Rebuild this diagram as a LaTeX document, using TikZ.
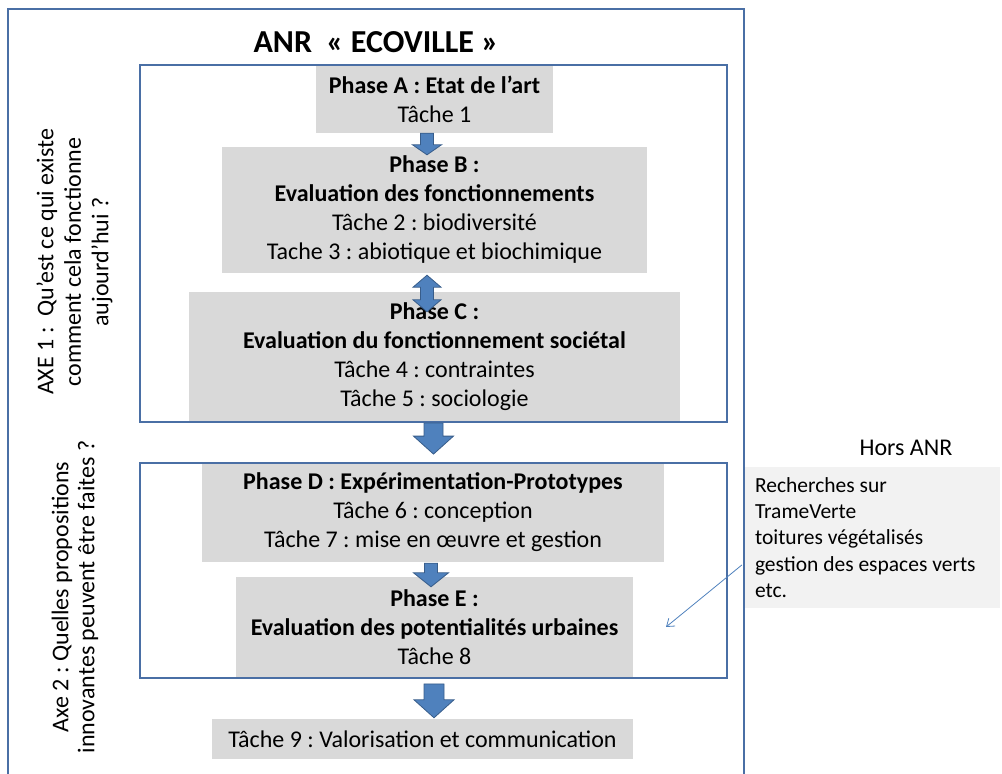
\documentclass[tikz,border=0pt]{standalone}
\usepackage{fontspec}
\setmainfont{Carlito}
\usetikzlibrary{arrows.meta,calc}
\definecolor{boxgray}{HTML}{D9D9D9}
\definecolor{notegray}{HTML}{F2F2F2}
\definecolor{frameblue}{HTML}{4A6FA5}
\definecolor{arrowfill}{HTML}{4F81BD}
\definecolor{arrowedge}{HTML}{385D8A}
\frenchspacing
% #1 tail, #2 tip, #3 shaft half width, #4 head half width, #5 head length
\newcommand{\blockdn}[5]{%
  \path[barrow] let \p1=#1, \p2=#2 in
    (\x2-#3pt,\y1) -- (\x2+#3pt,\y1) -- (\x2+#3pt,\y2+#5pt) -- (\x2+#4pt,\y2+#5pt)
    -- (\x2,\y2) -- (\x2-#4pt,\y2+#5pt) -- (\x2-#3pt,\y2+#5pt) -- cycle;}
\tikzset{
  phase/.style={fill=boxgray, inner sep=0pt, align=center},
  frame/.style={draw=frameblue, line width=1.8pt},
  barrow/.style={fill=arrowfill, draw=arrowedge, line width=0.8pt},
  note/.style={fill=notegray, inner xsep=10pt, inner ysep=0pt, align=flush left},
  sidetext/.style={rotate=90, align=center, inner sep=0pt},
  thinarrow/.style={draw=arrowfill, line width=0.8pt, -{Straight Barb[length=7pt,width=10pt]}}
}
\begin{document}
\begin{tikzpicture}[x=1pt,y=-1pt,font=\fontsize{24}{29}\selectfont\frenchspacing]
\useasboundingbox (0,0) rectangle (1002,774);

% phase boxes
\node[phase, minimum width=237, minimum height=68] (pa) at (434.5,99)
  {\textbf{Phase A : Etat de l’art}\\Tâche 1};
\node[phase, minimum width=425, minimum height=126] (pb) at (434.5,210)
  {\textbf{Phase B :}\\\textbf{Evaluation des fonctionnements}\\Tâche 2 : biodiversité\\Tache 3 : abiotique et biochimique};
\node[phase, minimum width=491, minimum height=130] (pc) at (434.5,357)
  {\textbf{Phase C :}\\\textbf{Evaluation du fonctionnement sociétal}\\Tâche 4 : contraintes\\Tâche 5 : sociologie};
\node[phase, minimum width=462, minimum height=99] (pd) at (433,512.5)
  {\textbf{Phase D : Expérimentation-Prototypes}\\Tâche 6 : conception\\Tâche 7 : mise en œuvre et gestion};
\node[phase, minimum width=397, minimum height=101] (pe) at (434.5,627.5)
  {\textbf{Phase E :}\\\textbf{Evaluation des potentialités urbaines}\\Tâche 8};
\node[phase, minimum width=421, minimum height=40] (t9) at (422.5,739)
  {Tâche 9 : Valorisation et communication};

% axis frames
\node[frame, minimum width=587, minimum height=357, inner sep=0pt] (box1) at (433.5,243.5) {};
\node[frame, minimum width=587, minimum height=215, inner sep=0pt] (box2) at (433.5,570.5) {};

% outside note
\node[note, text width=235, minimum height=141, font=\fontsize{21.5}{26.3}\selectfont\frenchspacing] (rb) at (872.5,537.5)
  {Recherches sur\\TrameVerte\\toitures végétalisés\\gestion des espaces verts\\etc.};
\node (hors) at (906,448) {Hors ANR};

% outer frame
\draw[frame] (8,774) -- (8,9) -- (744,9) -- (744,774);

% title
\node[font=\fontsize{32}{36}\selectfont\bfseries] (title) at (376,42) {ANR~~«~ECOVILLE~»};

% side texts
\node[sidetext, font=\fontsize{24}{27.5}\selectfont\frenchspacing] (axe1) at (74.5,262)
  {AXE 1 :~~Qu’est ce qui existe\\comment cela fonctionne\\aujourd’hui ?};
\node[sidetext, font=\fontsize{24}{26}\selectfont\frenchspacing] (axe2) at (75,597)
  {Axe 2 : Quelles propositions\\innovantes peuvent être faites ?};

% block arrows
\blockdn{($(pa.south)+(-7.5,0)$)}{($(pb.north)+(-7.5,8)$)}{6.5}{14.5}{10}
\path[barrow] let \p1=($(pb.south)+(-7.5,2)$), \p2=($(pc.north)+(-7.5,20)$) in
  (\x1,\y1) -- (\x1+14pt,\y1-12pt) -- (\x1+6.5pt,\y1-12pt) -- (\x1+6.5pt,\y2+12pt)
  -- (\x1+14pt,\y2+12pt) -- (\x1,\y2) -- (\x1-14pt,\y2+12pt) -- (\x1-6.5pt,\y2+12pt)
  -- (\x1-6.5pt,\y1-12pt) -- (\x1-14pt,\y1-12pt) -- cycle;
\blockdn{($(box1.south)+(0,0)$)}{($(box2.north)+(0,-8)$)}{9.5}{20}{18}
\blockdn{($(pd.south)+(-2,1)$)}{($(pe.north)+(-3.5,10)$)}{6.5}{17.5}{14}
\blockdn{($(box2.south)+(0.5,5)$)}{($(t9.north)+(11.5,-1)$)}{10}{20}{18}

% thin arrow
\coordinate (hp) at (666,627);
\draw[thinarrow] ($(rb.west)+(-3,27.5)$) -- (hp);
\end{tikzpicture}
\end{document}
